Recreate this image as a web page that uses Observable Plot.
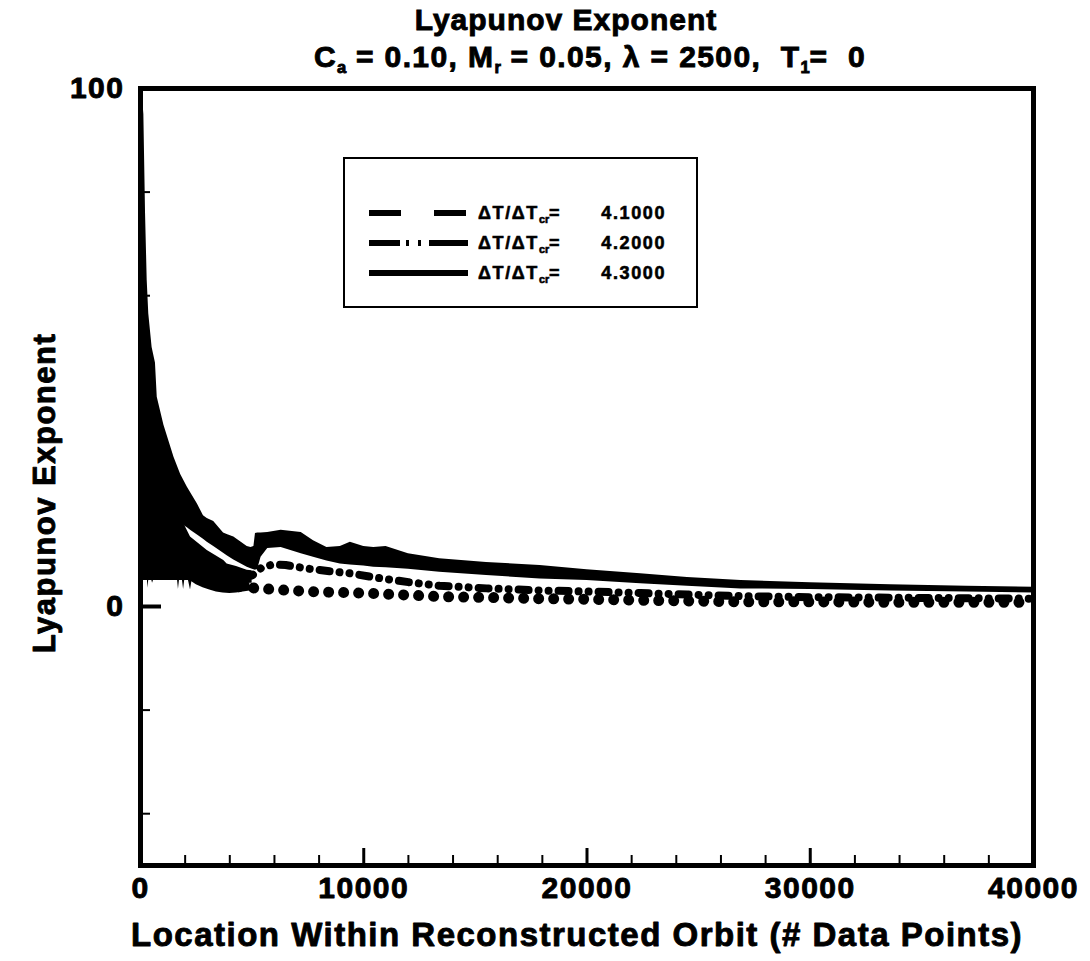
<!DOCTYPE html>
<html>
<head>
<meta charset="utf-8">
<script src="https://cdn.jsdelivr.net/npm/d3@7"></script>
<script src="https://cdn.jsdelivr.net/npm/@observablehq/plot@0.6"></script>
<style>
  html, body { margin: 0; padding: 0; background: #fff; }
  body { width: 1090px; height: 961px; position: relative; overflow: hidden;
         font-family: "Liberation Sans", Arial, Helvetica, sans-serif; color: #000; }
  #title { position: relative; width: 1090px; height: 75px; font-weight: bold; }
  #title div { position: absolute; width: 1090px; text-align: center; white-space: pre;
               font-size: 30px; line-height: 30px; letter-spacing: 1px;
               -webkit-text-stroke: 0.9px #000; }
  #title .t1 { top: 5px; left: 21px; }
  #title .t2 { top: 42px; left: 45px; letter-spacing: 1.4px; }
  .sub { font-size: 55%; position: relative; top: 0.35em; letter-spacing: 0; }
  #chart svg text { letter-spacing: 1.5px; stroke: #000; stroke-width: 0.9px; stroke-linejoin: round; }
  #legend { position: absolute; left: 343px; top: 157px; width: 351px; height: 147px;
            border: 2px solid #000; background: #fff; }
  #legend .row { position: absolute; left: 0; width: 351px; height: 20px; }
  #legend svg { position: absolute; left: 22px; top: 0; }
  #legend .lab { position: absolute; left: 133px; top: 0; font-size: 18px; line-height: 20px;
                 font-weight: bold; letter-spacing: 1.6px; -webkit-text-stroke: 0.6px #000; white-space: pre; }
  #legend .val { position: absolute; right: 30px; top: 0; font-size: 18px; line-height: 20px;
                 font-weight: bold; letter-spacing: 1.6px; -webkit-text-stroke: 0.6px #000; }
  #legend .lab .sub { font-size: 60%; top: 0.35em; letter-spacing: 0; }
</style>
</head>
<body>
<div id="title">
  <div class="t1">Lyapunov Exponent</div>
  <div class="t2">C<span class="sub">a</span> = 0.10, M<span class="sub">r</span> = 0.05, λ = 2500,  T<span class="sub">1</span>=  0</div>
</div>
<div id="chart"></div>
<div id="legend"></div>
<script>
// ---- Axis ticks ----
const xTickValues = [0, 10000, 20000, 30000, 40000];
const xMajorTicks = [10000, 20000, 30000];
const xMinorTicks = [2000, 4000, 6000, 8000, 12000, 14000, 16000, 18000, 22000, 24000, 26000, 28000,
                     32000, 34000, 36000, 38000];
const yTickValues = [0, 100];
const yMajorTicks = [0];
const yMinorTicks = [-40, -20, 20, 40, 60, 80];

// ---- ΔT/ΔTcr = 4.3 (solid): oscillation band, upper and lower edges ----
const solidX  = [0, 60, 150, 225, 300, 370, 520, 670, 750, 1050,
                 1500, 1800, 2100, 2240, 2550, 2820, 2990, 3280, 3720, 3880,
                 4180, 4780, 4950, 5080, 5150, 5250, 5400, 5700, 6300, 7200,
                 7750, 8350, 8950, 9400, 10000, 10450, 11000, 12000, 13400, 15500,
                 17900, 20000, 22400, 24500, 26900, 30000, 33600, 37000, 40000];
const solidHi = [101, 100, 95, 76, 63, 56.5, 50, 47, 40.4, 35,
                 28.8, 25.5, 23, 22, 19.8, 17.5, 17.0, 16.4, 14.2, 13.9,
                 13.4, 11.6, 11.4, 11.6, 14.1, 14.2, 14.2, 14.3, 14.7, 14.3,
                 12.7, 11.4, 11.6, 12.4, 11.6, 11.4, 11.6, 10.2, 9.2, 8.5,
                 7.9, 7.1, 6.3, 5.6, 5.0, 4.6, 4.2, 3.9, 3.7];
const solidLo = [20, 20, 20, 20, 20, 20, 19, 19, 18, 18,
                 16.5, 16, 15.2, 14.7, 13.8, 13.0, 12.4, 11.6, 10.3, 9.8,
                 9.0, 7.6, 7.3, 7.1, 7.0, 7.2, 9.5, 11.2, 11.4, 10.2,
                 9.5, 8.8, 8.2, 8.0, 7.8, 7.6, 7.5, 7.2, 6.6, 6.0,
                 5.3, 5.0, 4.4, 3.9, 3.4, 3.3, 3.0, 2.8, 2.6];

// ---- ΔT/ΔTcr = 4.2 (dash-dot): early transient band, then the trace ----
const dashDotTransX  = [0, 300, 700, 1200, 1800, 2000, 2240, 2990, 3730, 3880, 4300, 4780, 5000];
const dashDotTransHi = [45, 35, 26, 20, 16.5, 15.5, 13.4, 10.8, 8.9, 8.2, 7.7, 7.0, 6.9];
const dashDotTransLo = [5, 5, 5, 5, 5, 5, 5, 4.5, 4.5, 4.5, 4.5, 4.5, 4.5];
const dashDotX = [4600, 5000, 5400, 5900, 6500, 7500, 8500, 9400, 10500, 12000, 13400,
                  15500, 17900, 20000, 22400, 24500, 26900, 30000, 33600, 37000, 40000];
const dashDotY = [5.8, 6.0, 7.4, 8.1, 8.0, 7.3, 6.8, 6.4, 5.6, 4.7, 4.0,
                  3.5, 3.1, 2.9, 2.6, 2.3, 2.0, 1.8, 1.7, 1.6, 1.5];

// ---- ΔT/ΔTcr = 4.1 (dashed): early transient band, then the trace ----
const dashedTransX  = [0, 80, 110, 150, 250, 300, 330, 380, 480, 540,
                       700, 900, 1100, 1300, 1500, 1650, 1700, 1750, 1880, 1930,
                       1980, 2150, 2240, 2300, 2500, 2800, 3100, 3400, 3700, 4000,
                       4300, 4600, 4900];
const dashedTransHi = [30, 28, 26, 24, 20, 18, 17, 16, 14, 13,
                       11, 10, 9.5, 9, 8.5, 8, 8, 8, 7.8, 7.8,
                       7.5, 7.2, 7, 7, 6.8, 6.5, 6.2, 5.8, 5.5, 5.3,
                       5.0, 4.8, 4.6];
const dashedTransLo = [6, 6, 3.5, 6, 6, 6, 3.5, 5.5, 5.5, 4.5,
                       6.5, 6.5, 6, 5.5, 5.5, 5.5, 3.3, 5.2, 5, 3.3,
                       5, 5, 3.2, 4.8, 4.2, 3.6, 3.2, 2.8, 2.6, 2.5,
                       2.6, 2.8, 3.0];
const dashedX = [4400, 5240, 6300, 7470, 9000, 10450, 12000, 13400, 16000, 18000,
                 20000, 22400, 24000, 27000, 30000, 34000, 37000, 40000];
const dashedY = [3.8, 3.5, 3.2, 2.9, 2.7, 2.5, 2.2, 1.9, 1.7, 1.5,
                 1.4, 1.2, 1.1, 0.9, 0.9, 0.8, 0.8, 0.8];

// ---- Legend ----
const legendValues = ["4.1000", "4.2000", "4.3000"];
const legendDash = ["32,33", "31,6,3,9,3,8,40", null];

const band = (xs, hi, lo) => xs.map((x, i) => ({x, hi: hi[i], lo: lo[i]}));
const trace = (xs, ys) => xs.map((x, i) => ({x, y: ys[i]}));

const W = 1090, H = 886, mt = 13, mb = 96, ml = 140, mr = 57;
const frameW = W - ml - mr;
const frameH = H - mt - mb;

const chart = Plot.plot({
  width: W, height: H,
  marginTop: mt, marginBottom: mb, marginLeft: ml, marginRight: mr,
  style: {fontFamily: "'Liberation Sans', Arial, Helvetica, sans-serif", fontSize: "30px",
          fontWeight: "bold", background: "#fff", color: "#000", overflow: "visible"},
  x: {domain: [0, 40000], ticks: xTickValues, tickSize: 0, tickPadding: 11,
      tickFormat: d => String(d), label: null},
  y: {domain: [-50, 100], ticks: yTickValues, tickSize: 0, tickPadding: 16,
      tickFormat: d => String(d), label: null},
  marks: [
    // 4.3
    Plot.areaY(band(solidX, solidHi, solidLo), {x: "x", y1: "lo", y2: "hi", fill: "#000", clip: true}),
    // 4.2
    Plot.areaY(band(dashDotTransX, dashDotTransHi, dashDotTransLo), {x: "x", y1: "lo", y2: "hi", fill: "#000", clip: true}),
    Plot.line(trace(dashDotX, dashDotY), {x: "x", y: "y", stroke: "#000", strokeWidth: 8,
      strokeLinecap: "round", strokeDasharray: "10,10,0.01,10,0.01,10", clip: true}),
    // 4.1
    Plot.areaY(band(dashedTransX, dashedTransHi, dashedTransLo), {x: "x", y1: "lo", y2: "hi", fill: "#000", clip: true}),
    Plot.line(trace(dashedX, dashedY), {x: "x", y: "y", stroke: "#000", strokeWidth: 11,
      strokeLinecap: "round", strokeDasharray: "0.01,15", clip: true}),
    // inward ticks
    Plot.tickX(xMinorTicks, {x: d => d, insetTop: frameH - 10, strokeWidth: 2}),
    Plot.tickX(xMajorTicks, {x: d => d, insetTop: frameH - 17, strokeWidth: 3}),
    Plot.tickY(yMinorTicks, {y: d => d, insetRight: frameW - 10, strokeWidth: 2}),
    Plot.tickY(yMajorTicks, {y: d => d, insetRight: frameW - 21, strokeWidth: 4}),
    Plot.frame({stroke: "#000", strokeWidth: 5}),
    // axis titles
    Plot.text(["Location Within Reconstructed Orbit (# Data Points)"],
      {frameAnchor: "bottom", lineAnchor: "middle", textAnchor: "middle", dx: -10, dy: 70,
       fontSize: 33, fontWeight: "bold"}),
    Plot.text(["Lyapunov Exponent"],
      {frameAnchor: "left", textAnchor: "middle", lineAnchor: "middle", dx: -95, dy: 16, rotate: -90,
       fontSize: 31, fontWeight: "bold"})
  ]
});
document.getElementById("chart").appendChild(chart);

// legend rows
const legend = document.getElementById("legend");
const rowTops = [44, 74, 104];
legendValues.forEach((v, i) => {
  const row = document.createElement("div");
  row.className = "row";
  row.style.top = rowTops[i] + "px";
  const dash = legendDash[i] ? ` stroke-dasharray="${legendDash[i]}"` : "";
  row.innerHTML =
    `<svg width="104" height="20"><line x1="2" y1="10" x2="101" y2="10" stroke="#000" stroke-width="6"${dash}/></svg>` +
    `<span class="lab">ΔT/ΔT<span class="sub">cr</span>=</span>` +
    `<span class="val">${v}</span>`;
  legend.appendChild(row);
});
</script>
</body>
</html>
